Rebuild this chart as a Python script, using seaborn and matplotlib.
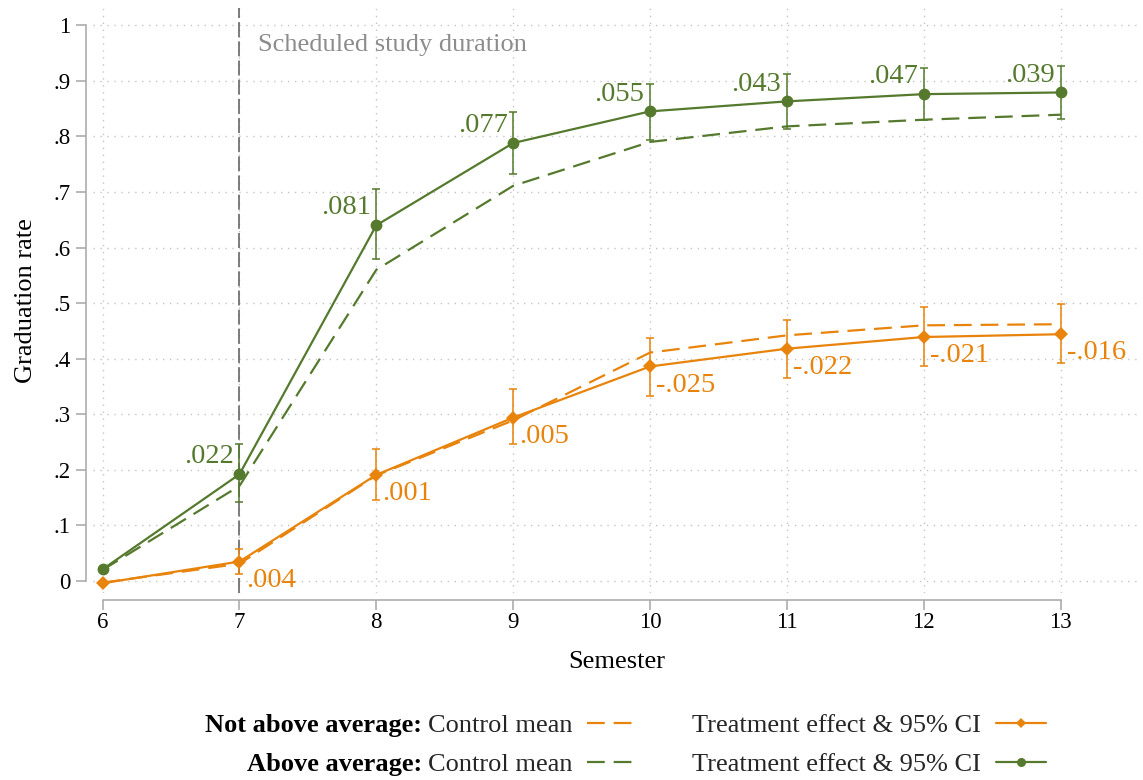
import matplotlib
matplotlib.use("Agg")
import matplotlib.pyplot as plt
from matplotlib.lines import Line2D
import seaborn as sns

# ---------------- data ----------------
semesters = [6, 7, 8, 9, 10, 11, 12, 13]
x_tick_labels = ["6", "7", "8", "9", "10", "11", "12", "13"]
y_ticks = [0.0, 0.1, 0.2, 0.3, 0.4, 0.5, 0.6, 0.7, 0.8, 0.9, 1.0]
y_tick_labels = ["0", ".1", ".2", ".3", ".4", ".5", ".6", ".7", ".8", ".9", "1"]

green_control = [0.020, 0.171, 0.560, 0.711, 0.790, 0.818, 0.830, 0.839]
green_treat = [0.021, 0.192, 0.640, 0.788, 0.845, 0.863, 0.876, 0.879]
green_ci_low = [0.018, 0.142, 0.579, 0.732, 0.794, 0.814, 0.830, 0.832]
green_ci_high = [0.024, 0.246, 0.705, 0.844, 0.895, 0.912, 0.923, 0.927]
green_effect_labels = ["", ".022", ".081", ".077", ".055", ".043", ".047", ".039"]

orange_control = [-0.003, 0.031, 0.190, 0.289, 0.411, 0.442, 0.460, 0.462]
orange_treat = [-0.004, 0.035, 0.191, 0.294, 0.386, 0.418, 0.439, 0.444]
orange_ci_low = [-0.006, 0.013, 0.146, 0.246, 0.333, 0.366, 0.387, 0.392]
orange_ci_high = [-0.002, 0.057, 0.237, 0.345, 0.437, 0.469, 0.493, 0.498]
orange_effect_labels = ["", ".004", ".001", ".005", "-.025", "-.022", "-.021", "-.016"]

legend_prefixes = ["Not above average:", "Above average:"]
legend_labels = ["Control mean", "Control mean",
                 "Treatment effect & 95% CI", "Treatment effect & 95% CI"]
study_text = "Scheduled study duration"
scheduled_semester = 7

# ---------------- style ----------------
GREEN = "#557A2E"
ORANGE = "#E8830C"
AXGRAY = "#a6a6a6"
DASH = (0, (8, 4))

sns.set_theme(style="ticks")
plt.rcParams["font.family"] = ["Liberation Serif", "DejaVu Serif"]
plt.rcParams["axes.unicode_minus"] = False

fig = plt.figure(figsize=(11.43, 7.8), dpi=100)
W, H = 1143, 780
ax = fig.add_axes([93 / W, 1 - 593 / H, (1140 - 93) / W, (593 - 8) / H])

# control means (dashed)
sns.lineplot(x=semesters, y=green_control, color=GREEN, lw=1.6, linestyle=DASH, ax=ax, zorder=3)
sns.lineplot(x=semesters, y=orange_control, color=ORANGE, lw=1.6, linestyle=DASH, ax=ax, zorder=3)

# confidence intervals
for treat, lo, hi, col in [(green_treat, green_ci_low, green_ci_high, GREEN),
                           (orange_treat, orange_ci_low, orange_ci_high, ORANGE)]:
    yerr = [[t - l for t, l in zip(treat, lo)], [h - t for t, h in zip(treat, hi)]]
    ax.errorbar(semesters, treat, yerr=yerr, fmt="none", ecolor=col, elinewidth=1.4,
                capsize=3, capthick=1.4, alpha=0.8, zorder=4)

# treatment lines with markers
sns.lineplot(x=semesters, y=green_treat, color=GREEN, lw=1.6, marker="o", markersize=8.5,
             markeredgewidth=0, ax=ax, zorder=5)
sns.lineplot(x=semesters, y=orange_treat, color=ORANGE, lw=1.6, marker="D", markersize=7,
             markeredgewidth=0, ax=ax, zorder=5)

# effect labels
for xv, yv, lbl in zip(semesters, green_treat, green_effect_labels):
    if lbl:
        ax.annotate(lbl, (xv, yv), xytext=(-4, 12.5), textcoords="offset points",
                    ha="right", va="center", fontsize=20.5, color=GREEN, zorder=6)
for xv, yv, lbl in zip(semesters, orange_treat, orange_effect_labels):
    if lbl:
        ax.annotate(lbl, (xv, yv), xytext=(4.5, -13.5), textcoords="offset points",
                    ha="left", va="center", fontsize=20.5, color=ORANGE, zorder=6)

# scheduled duration line
ax.axvline(scheduled_semester, color="#666666", lw=1.2, linestyle=(0, (9, 2.5)), zorder=2)
ax.text(scheduled_semester + 0.139, 0.964, study_text, ha="left", va="center",
        fontsize=19, color="#8c8c8c")

# axes
ax.set_xticks(semesters)
ax.set_xticklabels(x_tick_labels)
ax.set_yticks(y_ticks)
ax.set_yticklabels(y_tick_labels)
ax.set_xlim(5.93, 13.58)
ax.set_ylim(-0.0216, 1.031)
ax.grid(True, which="major", color="#c4c4c4", linestyle=(0, (1, 4)), linewidth=1.0)
ax.set_axisbelow(True)
ax.tick_params(axis="both", length=7, width=1.1, color=AXGRAY, labelsize=16.5,
               labelcolor="black")
ax.tick_params(axis="x", pad=2)
ax.tick_params(axis="y", pad=4)
ax.set_xlabel("Semester", fontsize=19, color="black", labelpad=13)
ax.set_ylabel("Graduation rate", fontsize=19, color="black", labelpad=12)
sns.despine(ax=ax, offset=5, trim=True)
for s in ["left", "bottom"]:
    ax.spines[s].set_color(AXGRAY)
    ax.spines[s].set_linewidth(1.1)

# legend
handles = [
    Line2D([], [], color=ORANGE, lw=1.6, linestyle=DASH),
    Line2D([], [], color=GREEN, lw=1.6, linestyle=DASH),
    Line2D([], [], color=ORANGE, lw=1.6, marker="D", markersize=5.5, markeredgewidth=0),
    Line2D([], [], color=GREEN, lw=1.6, marker="o", markersize=6.5, markeredgewidth=0),
]
leg = fig.legend(handles, legend_labels, ncol=2, markerfirst=False, frameon=False,
                 loc="center right", bbox_to_anchor=(1046 / W, 1 - 745 / H),
                 borderpad=0, borderaxespad=0, fontsize=19, handlelength=1.9,
                 handletextpad=0.55, columnspacing=2.1, labelspacing=0.6)

fig.canvas.draw()
renderer = fig.canvas.get_renderer()
for t, prefix in zip(leg.get_texts()[:2], legend_prefixes):
    bb = t.get_window_extent(renderer)
    fig.text((bb.x0 - 6) / fig.bbox.width, bb.y0 / fig.bbox.height, prefix,
             ha="right", va="bottom", fontsize=19, fontweight="bold", color="black")

fig.savefig("out.png", dpi=100)
